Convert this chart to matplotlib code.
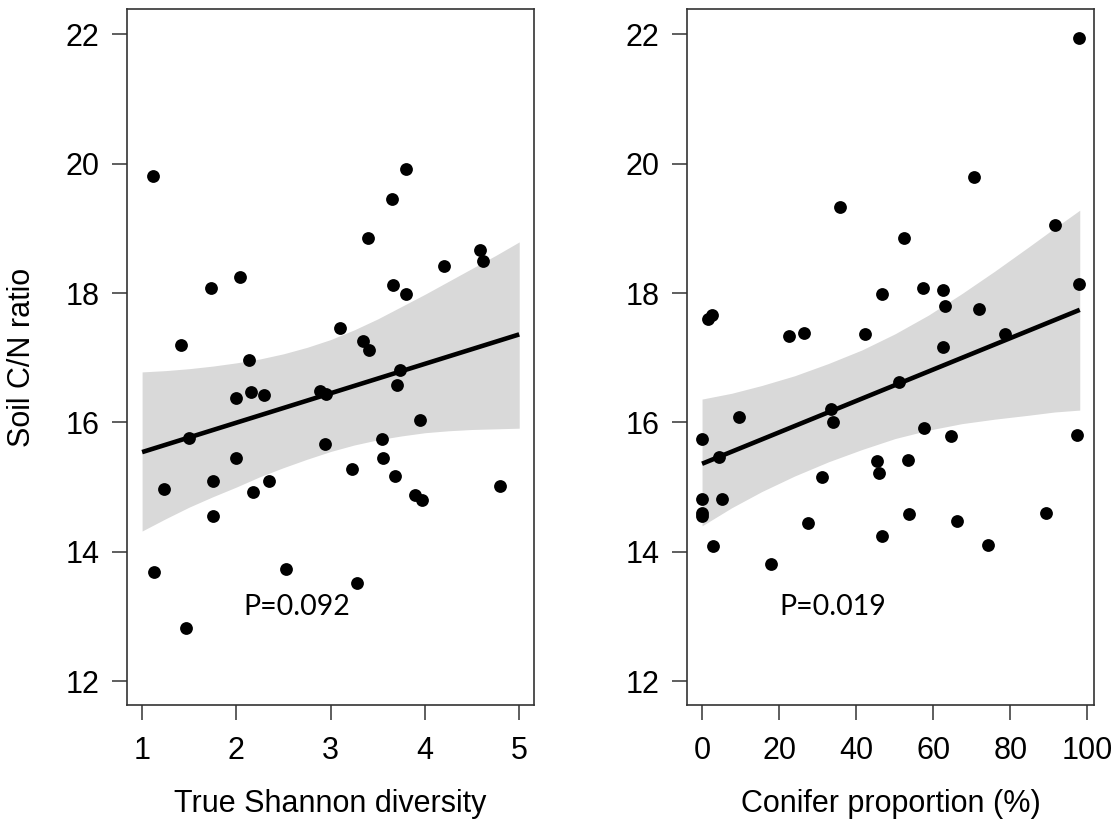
import numpy as np
import matplotlib
matplotlib.use("Agg")
import matplotlib.pyplot as plt

# soil c/n ratio vs. diversity and conifer share.

# left panel: true shannon diversity
shannon_x = [1.12, 3.80, 3.65, 3.40, 4.58, 4.62, 4.20, 2.04, 1.73, 3.66,
             3.80, 1.41, 3.10, 3.34, 3.41, 2.13, 3.74, 3.70, 2.00, 2.16,
             2.29, 2.89, 2.95, 3.95, 1.50, 2.94, 3.54, 3.55, 2.00, 3.23,
             3.68, 1.75, 2.35, 1.23, 2.18, 4.80, 3.89, 3.97, 1.75, 1.13,
             2.53, 3.28, 1.47]
shannon_cn = [19.81, 19.91, 19.46, 18.85, 18.67, 18.50, 18.42, 18.24, 18.08, 18.12,
              17.98, 17.19, 17.46, 17.26, 17.12, 16.96, 16.81, 16.58, 16.38, 16.47,
              16.42, 16.49, 16.44, 16.04, 15.76, 15.66, 15.74, 15.45, 15.45, 15.28,
              15.17, 15.09, 15.10, 14.97, 14.93, 15.01, 14.87, 14.80, 14.55, 13.68,
              13.73, 13.52, 12.82]
shannon_fit_x = [1.0, 5.0]
shannon_fit_y = [15.54, 17.36]
# confidence band edges, read at a set of x positions
shannon_band_x = [1.0, 1.25, 1.5, 1.75, 2.0, 2.25, 2.5, 2.75, 3.0, 3.25,
                  3.5, 3.75, 4.0, 4.25, 4.5, 4.75, 5.0]
shannon_band_hi = [16.78, 16.80, 16.83, 16.87, 16.92, 16.98, 17.06, 17.16, 17.28, 17.43,
                   17.60, 17.79, 17.98, 18.18, 18.38, 18.58, 18.79]
shannon_band_lo = [14.32, 14.51, 14.69, 14.85, 15.00, 15.16, 15.30, 15.43, 15.55, 15.65,
                   15.73, 15.79, 15.84, 15.87, 15.89, 15.90, 15.91]
shannon_p = "P=0.092"

# right panel: conifer proportion (%)
conifer_x = [97.7, 70.6, 35.8, 91.6, 52.3, 97.9, 46.6, 57.4, 62.5, 63.1,
             71.9, 1.6, 2.7, 22.6, 26.5, 42.4, 78.6, 62.5, 51.1, 33.5,
             9.5, 34.1, 0.0, 57.6, 64.6, 97.3, 4.4, 45.5, 46.0, 53.4,
             31.1, 0.0, 5.3, 0.0, 0.0, 27.6, 53.7, 66.1, 89.3, 46.8,
             2.9, 74.3, 18.0]
conifer_cn = [21.94, 19.80, 19.33, 19.05, 18.85, 18.14, 17.99, 18.07, 18.05, 17.80,
              17.75, 17.60, 17.66, 17.34, 17.38, 17.36, 17.36, 17.17, 16.62, 16.20,
              16.09, 16.00, 15.75, 15.92, 15.79, 15.80, 15.46, 15.41, 15.21, 15.42,
              15.16, 14.82, 14.81, 14.60, 14.55, 14.45, 14.58, 14.47, 14.60, 14.24,
              14.09, 14.11, 13.81]
conifer_fit_x = [0.0, 98.0]
conifer_fit_y = [15.36, 17.74]
conifer_band_x = [0.0, 7.7, 15.5, 24.0, 32.8, 41.5, 50.1, 58.8, 67.4, 76.0,
                  84.7, 91.4, 98.0]
conifer_band_hi = [16.36, 16.45, 16.57, 16.72, 16.91, 17.12, 17.37, 17.66, 17.99, 18.34,
                   18.71, 19.00, 19.28]
conifer_band_lo = [14.40, 14.68, 14.93, 15.17, 15.39, 15.58, 15.75, 15.88, 15.98, 16.05,
                   16.11, 16.16, 16.19]
conifer_p = "P=0.019"

y_ticks = [12, 14, 16, 18, 20, 22]

plt.rcParams['font.family'] = ['Liberation Sans', 'DejaVu Sans']

fig = plt.figure(figsize=(11.2, 8.31), dpi=100)
ax1 = fig.add_axes([0.1134, 0.1516, 0.3634, 0.8375])
ax2 = fig.add_axes([0.6134, 0.1516, 0.3634, 0.8375])

panels = [
	(ax1, shannon_x, shannon_cn, shannon_fit_x, shannon_fit_y, shannon_band_x,
	 shannon_band_lo, shannon_band_hi, shannon_p, (2.07, 13.15), (0.84, 5.157),
	 [1, 2, 3, 4, 5], "True Shannon diversity"),
	(ax2, conifer_x, conifer_cn, conifer_fit_x, conifer_fit_y, conifer_band_x,
	 conifer_band_lo, conifer_band_hi, conifer_p, (20.0, 13.15), (-3.9, 101.7),
	 [0, 20, 40, 60, 80, 100], "Conifer proportion (%)"),
]

for (ax, x, y, fx, fy, bx, blo, bhi, ptxt, ppos, xlim, xt, xlab) in panels:
	ax.fill_between(bx, blo, bhi, color='#d9d9d9', lw=0, zorder=1)
	ax.plot(fx, fy, color='black', lw=3.3, solid_capstyle='butt', zorder=2)
	ax.scatter(x, y, s=85, color='black', lw=0, zorder=3)
	ax.text(ppos[0], ppos[1], ptxt, ha='left', va='center', fontsize=20.5,
	        family=['Lato', 'DejaVu Sans'])
	ax.set_xlim(*xlim)
	ax.set_ylim(11.63, 22.39)
	ax.set_xticks(xt)
	ax.set_yticks(y_ticks)
	ax.tick_params(axis='both', length=11, width=1.1, color='#333333',
	               labelsize=22, direction='out')
	ax.tick_params(axis='x', pad=11)
	ax.tick_params(axis='y', pad=9)
	for sp in ax.spines.values():
		sp.set_color('#333333')
		sp.set_linewidth(1.2)
	ax.set_xlabel(xlab, fontsize=22, labelpad=17)

ax1.set_ylabel("Soil C/N ratio", fontsize=22, labelpad=20)

fig.savefig("out.png", dpi=100)
